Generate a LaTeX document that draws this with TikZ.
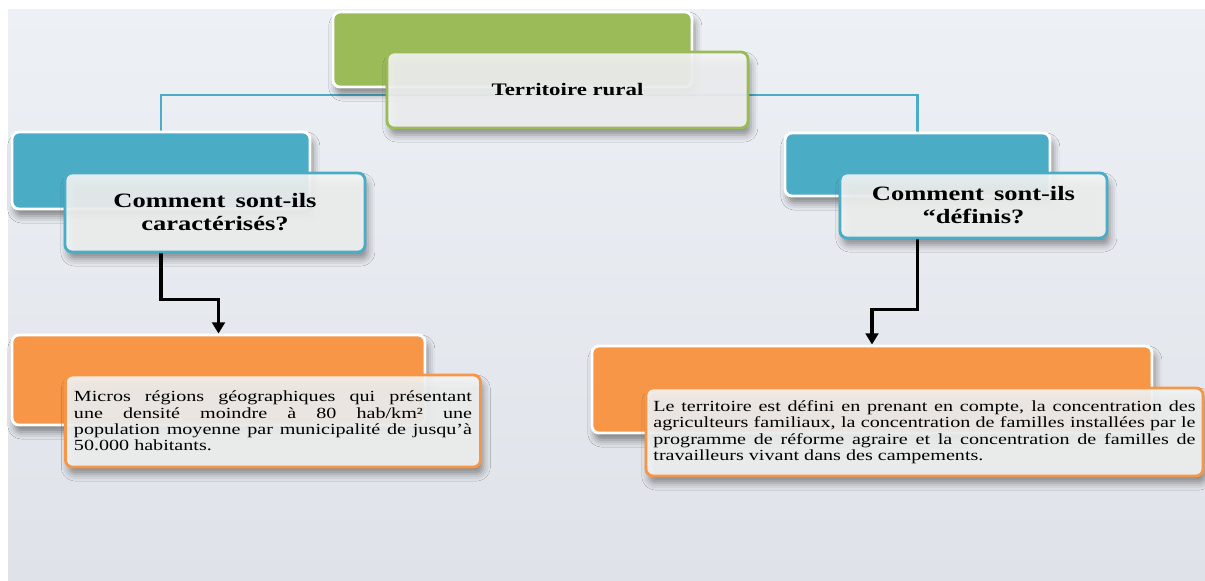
\documentclass[tikz,border=0pt]{standalone}
\usepackage{fontspec}
\setmainfont{Liberation Serif}[FakeStretch=1.3]
\usetikzlibrary{arrows.meta,backgrounds,shadows.blur}

\definecolor{rurgreen}{HTML}{9BBB59}
\definecolor{rurteal}{HTML}{4BACC6}
\definecolor{rurorange}{HTML}{F79646}
\definecolor{pagetop}{HTML}{EDF0F5}
\definecolor{pagebot}{HTML}{DFE2E8}
\definecolor{boxfill}{HTML}{F4F5F5}

\hyphenpenalty=10000
\exhyphenpenalty=10000

\tikzset{
  sz/.style 2 args={minimum width=#1*0.025cm, minimum height=#2*0.025cm, inner sep=0pt},
  boxshadow/.style={blur shadow={shadow xshift=2pt, shadow yshift=-5pt, shadow blur radius=5pt, shadow opacity=45}},
  backbox/.style={draw=white, line width=2pt, rounded corners=5pt, fill=#1, boxshadow},
  frontbox/.style={draw=#1, line width=2pt, rounded corners=5pt, fill=boxfill, fill opacity=0.9, text opacity=1, boxshadow},
  roottext/.style={font=\bfseries\fontsize{12.5}{14}\selectfont},
  asktext/.style={font=\bfseries\fontsize{14.5}{16.4}\selectfont, align=center},
  bodytext/.style={font=\fontsize{11}{11.7}\selectfont, align=justify},
  link/.style={rurteal, line width=2pt},
  flow/.style={black, line width=2.6pt, -{Triangle[length=8pt,width=9pt]}},
}

\begin{document}
\begin{tikzpicture}[x=0.025cm, y=-0.025cm]
  \useasboundingbox (0,0) rectangle (1205,580);

  % top of the tree
  \node[backbox=rurgreen, sz={359}{75}] (rootback) at (512.5,49.5) {};
  \node[frontbox=rurgreen, sz={361}{76}, roottext] (root) at (567.5,90) {Territoire rural};

  % the two questions
  \node[backbox=rurteal, sz={298}{77}] (q1back) at (161,170.5) {};
  \node[frontbox=rurteal, sz={300}{79}, asktext] (q1) at (215,212.5) {Comment\enspace sont-ils\\caractérisés?};
  \node[backbox=rurteal, sz={265}{63}] (q2back) at (917.5,164.5) {};
  \node[frontbox=rurteal, sz={267}{65}, asktext] (q2) at (973.5,205.5) {Comment\enspace sont-ils\\“définis?};

  % the answers
  \node[backbox=rurorange, sz={413}{90}] (a1back) at (218.5,380) {};
  \node[frontbox=rurorange, sz={415}{92}, bodytext, text width=9.95cm] (a1) at (273,421)
    {Micros régions géographiques qui présentant\linebreak une densité moindre à 80 hab/km² une\linebreak population moyenne par municipalité de jusqu’à\linebreak 50.000 habitants.};
  \node[backbox=rurorange, sz={560}{87}] (a2back) at (872,389.5) {};
  \node[frontbox=rurorange, sz={557}{88}, bodytext, text width=13.55cm] (a2) at (924.5,432)
    {Le territoire est défini en prenant en compte, la concentration des agriculteurs familiaux, la concentration de familles installées par le programme de réforme agraire et la concentration de familles de travailleurs vivant dans des campements.};

  \begin{scope}[on background layer]
    \fill[white] (0,0) rectangle (1205,580);
    \shade[top color=pagetop, bottom color=pagebot] (8,9) rectangle (1205,580);
    \draw[link] (q1back.north) |- ([yshift=-0.125cm]root.center) -| (q2back.north);
    \draw[flow] (q1back.center |- q1.south) -- ++(0,46) -| (a1back.north);
    \draw[flow] (q2back.center |- q2.south) -- ++(0,70) -| (a2back.north);
  \end{scope}
\end{tikzpicture}
\end{document}
